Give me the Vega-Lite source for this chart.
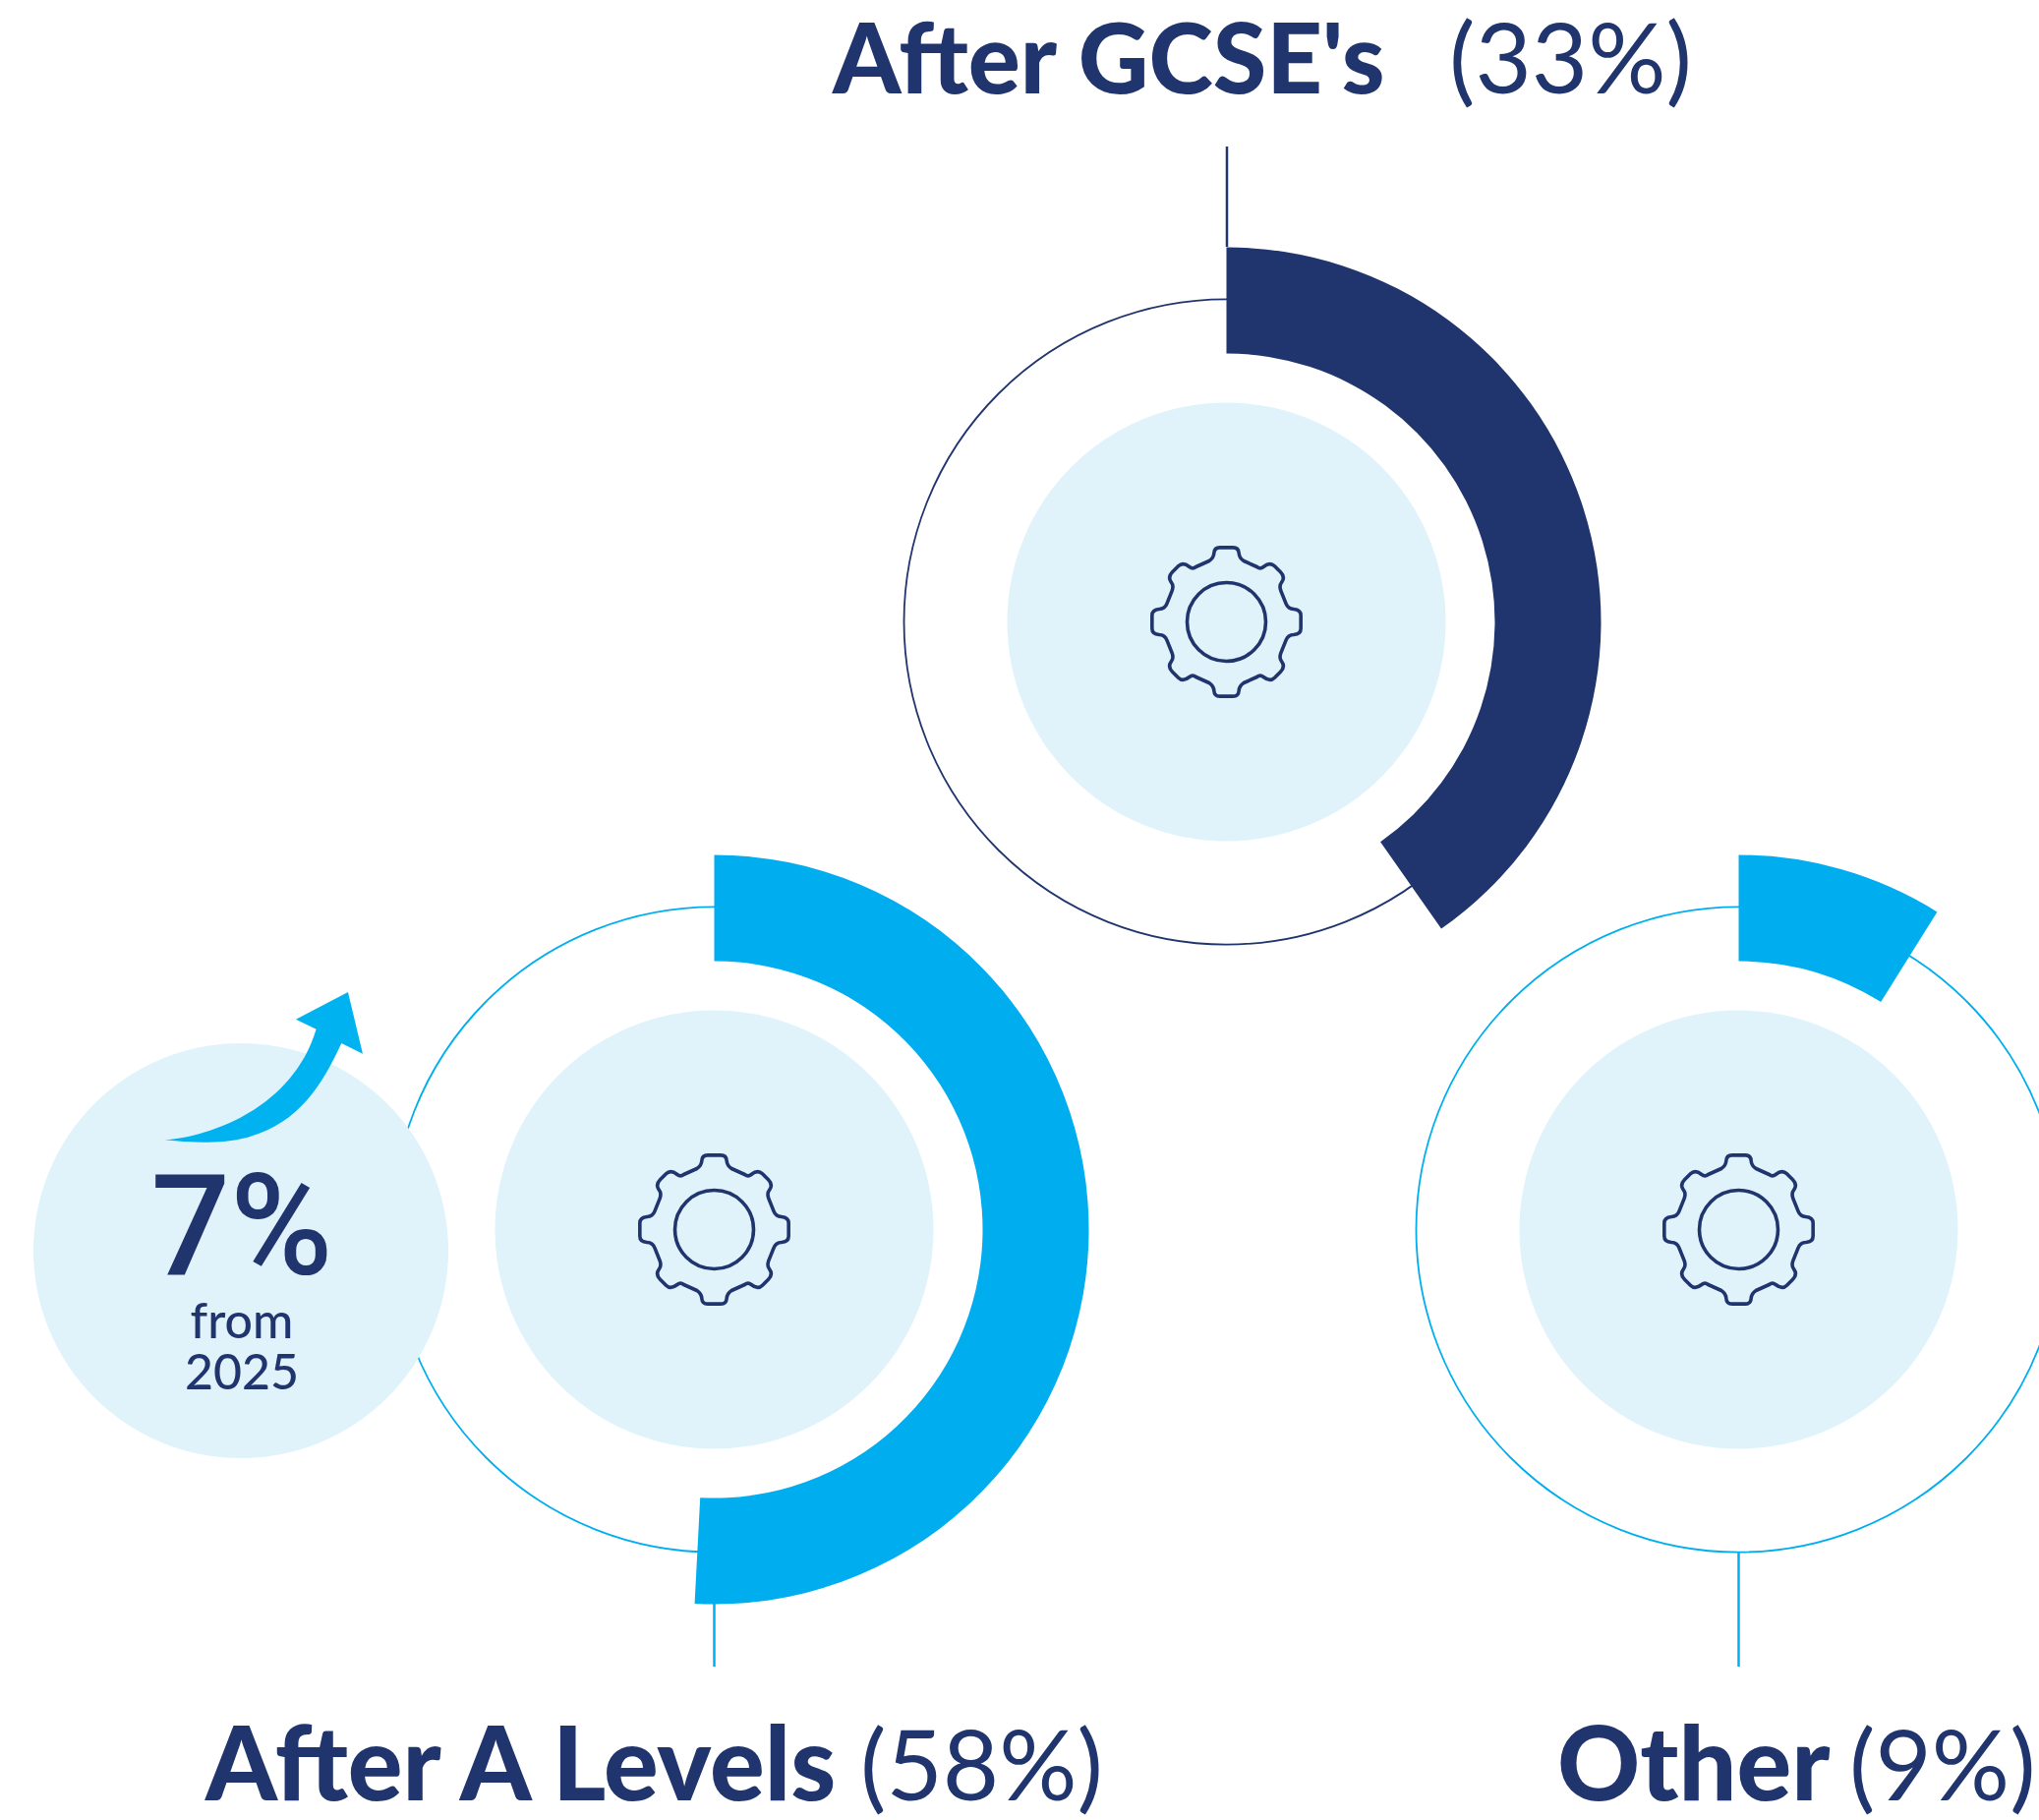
{"$schema":"https://vega.github.io/schema/vega-lite/v6.json","width":2074,"height":1851,"padding":0,"autosize":{"type":"none"},"background":"#ffffff","config":{"view":{"stroke":null}},
"datasets":{"donuts":[{"group":"After GCSE's","cx":1247.5,"cy":632.5,"start":0,"deg":145},{"group":"After A Levels","cx":726.5,"cy":1250.5,"start":0,"deg":183},{"group":"Other","cx":1768.5,"cy":1250.5,"start":0,"deg":32}],
"stems":[{"group":"After GCSE's","sx":1248,"y0":149,"y1":251},{"group":"After A Levels","sx":726.5,"y0":1630,"y1":1695},{"group":"Other","sx":1768.5,"y0":1578,"y1":1695}],
"callout":[{"cx":245,"cy":1272}],"arrow":[{"ax":268.3,"ay":1085}],
"bold":[{"t":"After GCSE's","x":847,"y":95,"row":"top"},{"t":"After A Levels","x":209,"y":1831,"row":"bottom"},{"t":"Other","x":1584,"y":1831,"row":"bottom"}],
"light":[{"t":"(33%)","x":1474,"y":95},{"t":"(58%)","x":875,"y":1831},{"t":"(9%)","x":1881,"y":1831}],
"note":[{"t":"7%","x":246,"y":1296,"k":"big"},{"t":"from","x":246,"y":1361,"k":"sub"},{"t":"2025","x":246,"y":1413,"k":"sub"}]},
"layer":[
{"data":{"name":"donuts"},"mark":{"type":"point","shape":"circle","filled":false,"size":430336,"strokeWidth":1.8,"opacity":1},
"encoding":{"x":{"field":"cx","type":"quantitative","scale":{"domain":[0,2074],"range":[0,2074],"nice":false,"zero":false},"axis":null},"y":{"field":"cy","type":"quantitative","scale":{"domain":[0,1851],"range":[0,1851],"nice":false,"zero":false},"axis":null},"color":{"field":"group","type":"nominal","scale":{"domain":["After GCSE's","After A Levels","Other"],"range":["#20356e","#00aeef","#00aeef"]},"legend":null}}},
{"data":{"name":"stems"},"mark":{"type":"rule","strokeWidth":2.5},
"encoding":{"x":{"field":"sx","type":"quantitative"},"y":{"field":"y0","type":"quantitative"},"y2":{"field":"y1"},"color":{"field":"group","type":"nominal","legend":null}}},
{"data":{"name":"donuts"},"mark":{"type":"arc","radius":381,"radius2":273},
"encoding":{"x":{"field":"cx","type":"quantitative"},"y":{"field":"cy","type":"quantitative"},"theta":{"field":"start","type":"quantitative","scale":{"type":"linear","domain":[0,360],"range":[0,6.283185]}},"theta2":{"field":"deg"},"color":{"field":"group","type":"nominal","legend":null}}},
{"data":{"name":"donuts"},"mark":{"type":"point","shape":"circle","filled":true,"size":198916,"color":"#e0f3fb","opacity":1},
"encoding":{"x":{"field":"cx","type":"quantitative"},"y":{"field":"cy","type":"quantitative"}}},
{"data":{"name":"donuts"},"mark":{"type":"point","filled":false,"size":0.4444,"color":"#20356e","strokeWidth":3.6,"opacity":1,"strokeJoin":"round","shape":"M 0,-227 L 20,-227 Q 37,-227 38,-210 Q 39,-195 53,-186 L 93,-168 Q 103,-160 113,-168 Q 133,-184 147,-170 L 165,-152 Q 180,-137 169,-122 Q 160,-111 166,-95 L 182,-55 Q 188,-40 205,-39 Q 227,-37 227,-20 L 227,20 Q 227,37 205,39 Q 188,40 182,55 L 166,95 Q 160,111 169,122 Q 180,137 165,152 L 147,170 Q 133,184 113,168 Q 103,160 93,168 L 53,186 Q 39,195 38,210 Q 37,227 20,227 L -20,227 Q -37,227 -38,210 Q -39,195 -53,186 L -93,168 Q -103,160 -113,168 Q -133,184 -147,170 L -165,152 Q -180,137 -169,122 Q -160,111 -166,95 L -182,55 Q -188,40 -205,39 Q -227,37 -227,20 L -227,-20 Q -227,-37 -205,-39 Q -188,-40 -182,-55 L -166,-95 Q -160,-111 -169,-122 Q -180,-137 -165,-152 L -147,-170 Q -133,-184 -113,-168 Q -103,-160 -93,-168 L -53,-186 Q -39,-195 -38,-210 Q -37,-227 -20,-227 Z"},
"encoding":{"x":{"field":"cx","type":"quantitative"},"y":{"field":"cy","type":"quantitative"}}},
{"data":{"name":"donuts"},"mark":{"type":"point","shape":"circle","filled":false,"size":6400,"color":"#20356e","strokeWidth":3.6,"opacity":1},
"encoding":{"x":{"field":"cx","type":"quantitative"},"y":{"field":"cy","type":"quantitative"}}},
{"data":{"name":"callout"},"mark":{"type":"point","shape":"circle","filled":true,"size":178084,"color":"#e0f3fb","opacity":1},
"encoding":{"x":{"field":"cx","type":"quantitative"},"y":{"field":"cy","type":"quantitative"}}},
{"data":{"name":"arrow"},"mark":{"type":"point","filled":true,"size":0.4444,"color":"#00b3f0","opacity":1,"shape":"M -302,223 C -180,215 85,135 160,-115 L 98,-145 L 257,-228 L 302,-40 L 237,-72 C 165,85 70,228 -170,230 Q -240,231 -302,223 Z"},
"encoding":{"x":{"field":"ax","type":"quantitative"},"y":{"field":"ay","type":"quantitative"}}},
{"data":{"name":"bold"},"transform":[{"filter":"datum.row==='top'"}],"mark":{"type":"text","font":"Lato","fontWeight":900,"fontSize":99,"align":"left","baseline":"alphabetic","color":"#20356e"},
"encoding":{"x":{"field":"x","type":"quantitative"},"y":{"field":"y","type":"quantitative"},"text":{"field":"t"}}},
{"data":{"name":"bold"},"transform":[{"filter":"datum.row==='bottom'"}],"mark":{"type":"text","font":"Lato","fontWeight":900,"fontSize":104,"align":"left","baseline":"alphabetic","color":"#20356e"},
"encoding":{"x":{"field":"x","type":"quantitative"},"y":{"field":"y","type":"quantitative"},"text":{"field":"t"}}},
{"data":{"name":"light"},"mark":{"type":"text","font":"Lato","fontWeight":400,"fontSize":99,"align":"left","baseline":"alphabetic","color":"#20356e"},
"encoding":{"x":{"field":"x","type":"quantitative"},"y":{"field":"y","type":"quantitative"},"text":{"field":"t"}}},
{"data":{"name":"note"},"transform":[{"filter":"datum.k==='big'"}],"mark":{"type":"text","font":"Roboto","fontWeight":500,"fontSize":142,"align":"center","baseline":"alphabetic","color":"#20356e"},
"encoding":{"x":{"field":"x","type":"quantitative"},"y":{"field":"y","type":"quantitative"},"text":{"field":"t"}}},
{"data":{"name":"note"},"transform":[{"filter":"datum.k==='sub'"}],"mark":{"type":"text","font":"Lato","fontWeight":500,"fontSize":50,"align":"center","baseline":"alphabetic","color":"#20356e"},
"encoding":{"x":{"field":"x","type":"quantitative"},"y":{"field":"y","type":"quantitative"},"text":{"field":"t"}}}
]}
